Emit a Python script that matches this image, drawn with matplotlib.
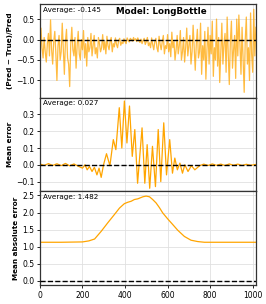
import numpy as np
import matplotlib
matplotlib.use("Agg")
import matplotlib.pyplot as plt

# ---- data ----
# top panel: relative error, one value every 5 samples
rel_x_step = 5
rel_err = [
    -0.75, 0.28, -0.2, -0.45, 0.05, -0.3, -0.55, -0.1, 0.15, -0.4,
    0.48, -0.25, -0.6, -0.05, 0.2, -0.35, -1.0, -0.15, 0.1, -0.5,
    -0.3, 0.4, -0.2, -0.85, -0.05, 0.25, -0.45, -0.6, -1.15, -0.1,
    0.3, -0.25, -0.4, 0.05, -0.7, -0.15, 0.2, -0.35, -0.5, 0.0,
    -0.25, 0.22, -0.45, -0.1, -0.65, 0.05, -0.3, -0.2, 0.15, -0.4,
    -0.15, 0.1, -0.35, -0.2, -0.45, 0.05, -0.1, -0.3, -0.2, 0.12,
    -0.25, -0.05, -0.35, 0.08, -0.15, -0.25, -0.05, 0.05, -0.3, -0.1,
    -0.18, 0.04, -0.12, -0.2, -0.02, 0.03, -0.14, -0.06, -0.1, 0.02,
    -0.05, -0.1, 0.04, -0.02, -0.06, 0.03, 0.0, -0.04, 0.05, -0.02,
    0.02, -0.05, 0.04, -0.03, -0.07, 0.01, -0.1, -0.02, 0.03, -0.12,
    -0.05, 0.05, -0.15, -0.08, -0.2, 0.04, -0.12, -0.25, -0.05, 0.03,
    -0.2, -0.3, 0.08, -0.12, -0.25, -0.05, 0.1, -0.35, -0.15, -0.22,
    0.12, -0.3, -0.1, -0.42, 0.18, -0.2, -0.05, -0.5, -0.25, 0.1,
    -0.35, -0.15, 0.22, -0.5, -0.3, 0.05, -0.55, -0.2, 0.28, -0.4,
    -0.15, 0.1, -0.6, -0.3, 0.35, -0.2, -0.75, -0.1, 0.25, -0.45,
    -0.3, 0.4, -0.85, -0.15, -0.5, 0.2, -0.97, -0.25, 0.3, -0.6,
    0.1, -0.35, 0.45, -0.9, -0.2, -0.5, 0.5, -0.65, 0.05, -1.05,
    -0.3, 0.4, -0.6, -0.1, 0.15, -0.8, 0.55, -0.35, -1.1, -0.05,
    0.45, -0.7, -0.25, 0.1, -0.95, 0.5, -0.4, 0.6, -0.15, -0.85,
    0.3, -0.5, -1.29, 0.0, 0.55, -0.6, -0.2, -1.0, 0.65, -0.35,
    -0.8, 0.74, -0.4, 0.3,
]
rel_avg = -0.145

# middle panel: mean error
me_x = [0, 20, 40, 60, 80, 100, 120, 140, 160, 180, 200, 212, 222, 233, 245,
        256, 268, 278, 288, 299, 313, 329, 345, 357, 373, 385, 397, 409, 421,
        434, 446, 459, 480, 493, 504, 516, 529, 543, 556, 568, 582, 595, 610,
        623, 634, 646, 658, 670, 681, 696, 712, 728, 751, 770, 790, 810, 830,
        850, 870, 890, 910, 930, 950, 970, 990, 1015]
me_y = [0.005, -0.004, 0.007, -0.004, 0.006, -0.005, 0.008, -0.006, 0.005,
        -0.008, -0.02, 0.0, -0.03, -0.01, -0.04, -0.015, -0.06, -0.02, -0.075,
        0.0, 0.066, -0.005, 0.15, 0.09, 0.34, 0.1, 0.38, 0.13, 0.35, 0.05,
        0.21, -0.11, 0.22, -0.11, 0.12, -0.14, 0.11, -0.13, 0.21, -0.1, 0.25,
        -0.06, 0.15, -0.05, 0.04, -0.03, 0.01, -0.05, 0.0, -0.04, -0.005,
        -0.03, -0.005, 0.004, -0.004, 0.005, -0.003, 0.004, -0.004, 0.005,
        -0.003, 0.004, -0.004, 0.003, -0.003, 0.002]
me_avg = 0.027

# bottom panel: mean absolute error
mae_x = [0, 100, 200, 230, 257, 288, 319, 350, 374, 397, 413, 429, 444, 460,
         484, 499, 515, 530, 546, 562, 577, 601, 624, 648, 679, 710, 742, 773,
         900, 1015]
mae_y = [1.13, 1.13, 1.14, 1.17, 1.225, 1.45, 1.70, 1.94, 2.13, 2.26, 2.30,
         2.33, 2.38, 2.40, 2.46, 2.48, 2.46, 2.38, 2.28, 2.14, 1.99, 1.81,
         1.65, 1.48, 1.30, 1.19, 1.15, 1.13, 1.13, 1.13]
mae_avg = 1.482

model = "LongBottle"

# ---- plot ----
fig, axes = plt.subplots(3, 1, figsize=(2.66, 3.04), dpi=100, sharex=True)
fig.subplots_adjust(left=0.150, right=0.962, top=0.987, bottom=0.0625, hspace=0)

rel_x = np.arange(len(rel_err)) * rel_x_step
axes[0].plot(rel_x, rel_err, color="orange", lw=0.9, alpha=0.75)
axes[1].plot(me_x, me_y, color="orange", lw=0.9)
axes[2].plot(mae_x, mae_y, color="orange", lw=0.9)

labels = ["(Pred \u2212 True)/Pred", "Mean error", "Mean absolute error"]
avgs = [rel_avg, me_avg, mae_avg]
for ax, lab, avg in zip(axes, labels, avgs):
    ax.axhline(0, color="black", ls="--", lw=1.0, zorder=3)
    ax.grid(color="#e0e0e0", lw=0.6)
    ax.set_axisbelow(True)
    ax.set_ylabel(lab, fontsize=5.2, fontweight="bold", labelpad=2)
    ax.tick_params(labelsize=5.5, length=2.5, width=0.6, pad=1.5)
    ax.text(0.015, 0.97, f"Average: {avg:.3f}", transform=ax.transAxes,
            fontsize=5.2, ha="left", va="top")
    for s in ax.spines.values():
        s.set_color("#333333")
        s.set_linewidth(0.9)

axes[0].text(0.56, 0.97, f"Model: {model}", transform=axes[0].transAxes,
             fontsize=6.3, fontweight="bold", ha="center", va="top")

axes[0].set_ylim(-1.42, 0.87)
axes[0].set_yticks([-1.0, -0.5, 0.0, 0.5])
axes[1].set_ylim(-0.158, 0.40)
axes[1].set_yticks([-0.1, 0.0, 0.1, 0.2, 0.3])
axes[2].set_ylim(-0.12, 2.62)
axes[2].set_yticks([0.0, 0.5, 1.0, 1.5, 2.0, 2.5])
axes[2].set_xlim(0, 1015)
axes[2].set_xticks([0, 200, 400, 600, 800, 1000])

plt.savefig("out.png", dpi=100)
